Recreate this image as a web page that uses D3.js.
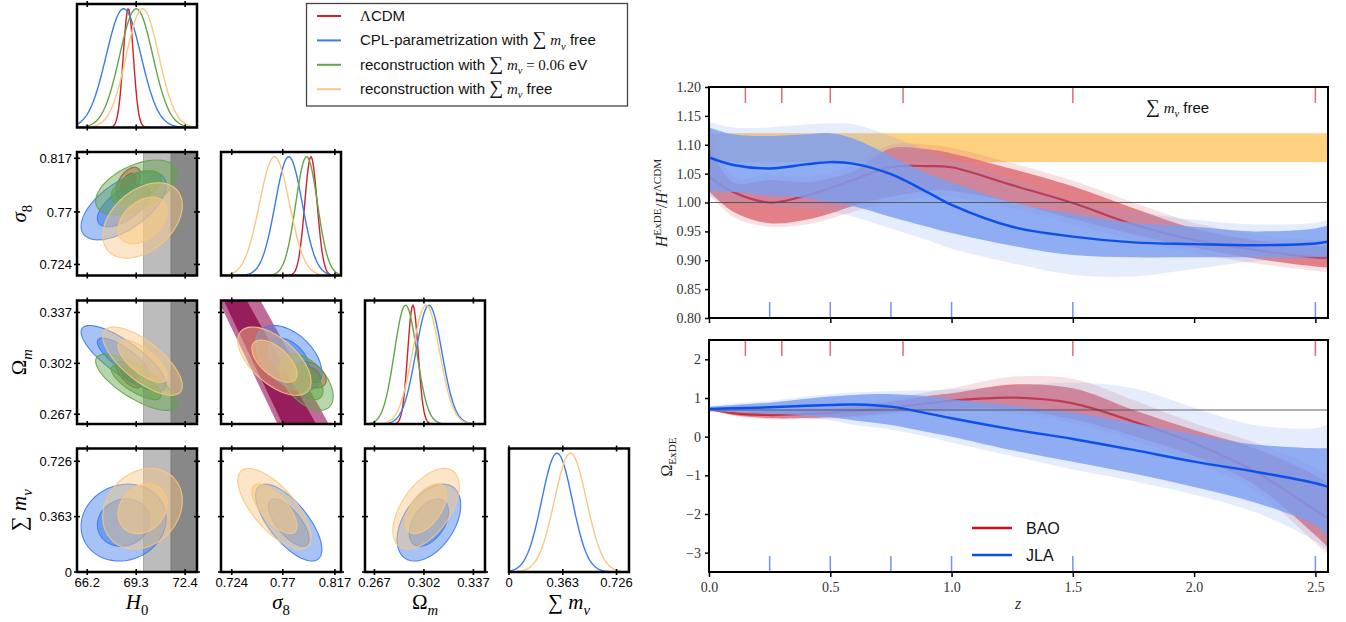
<!DOCTYPE html>
<html>
<head>
<meta charset="utf-8">
<script src="https://cdn.jsdelivr.net/npm/d3@7"></script>
<style>
body { margin: 0; background: #fff; }
svg { display: block; }
</style>
</head>
<body>
<svg id="chart" width="1346" height="622"></svg>
<script>
// ---------------- corner plot data ----------------
var paramDomains = [[65.55, 73.15], [0.7143, 0.8225], [0.2603, 0.3452], [0, 0.81]];
var paramTicks = [[66.2, 69.3, 72.4], [0.724, 0.77, 0.817], [0.267, 0.302, 0.337], [0, 0.363, 0.726]];
var paramTickLabels = [["66.2", "69.3", "72.4"], ["0.724", "0.77", "0.817"], ["0.267", "0.302", "0.337"], ["0", "0.363", "0.726"]];

var seriesNames = ["LCDM", "CPL", "recon006", "reconFree"];
var seriesColors = ["#d21f2b", "#3b7bec", "#62a447", "#f8c882"];
// mean / sigma of H0, sigma8, Omega_m, sum m_nu (null = not sampled)
var seriesMean = [[68.8, 0.7954, 0.2942, null],
                  [68.5, 0.7754, 0.3055, 0.324],
                  [69.3, 0.7915, 0.289, null],
                  [69.7, 0.7625, 0.3035, 0.415]];
var seriesSigma = [[0.32, 0.0056, 0.0037, null],
                   [1.1, 0.0122, 0.0092, 0.103],
                   [1.05, 0.0098, 0.0079, null],
                   [1.03, 0.0135, 0.0096, 0.108]];
// correlation coefficients per parameter pair
var corrH0S8 = [0.5, 0.6, 0.5, 0.4];
var corrH0Om = [-0.7, -0.8, -0.75, -0.72];
var corrS8Om = [-0.4, -0.45, -0.5, -0.6];
var corrH0Mnu = [null, 0.1, null, 0.2];
var corrS8Mnu = [null, -0.7, null, -0.7];
var corrOmMnu = [null, 0.45, null, 0.55];
var contourProbs = [0.95, 0.68];
var contourAlpha = [0.45, 0.55];

// local H0 bands (2 sigma, 1 sigma)
var h0BandOuter = [69.76, 76.72];
var h0BandInner = [71.50, 74.98];
// sigma8 - Omega_m cluster band
var bandOm = [0.255, 0.35];
var bandOuterLo = [0.7686, 0.7089];
var bandOuterHi = [0.8153, 0.7464];
var bandInnerLo = [0.7732, 0.7137];
var bandInnerHi = [0.8039, 0.734];

// ---------------- reconstruction data ----------------
var zGrid = [0, 0.1, 0.25, 0.4, 0.5, 0.6, 0.75, 0.9, 1.0, 1.25, 1.5, 1.75, 2.0, 2.25, 2.5, 2.55];

var blueHMean = [1.078, 1.065, 1.059, 1.066, 1.070, 1.067, 1.049, 1.018, 0.996, 0.958, 0.941, 0.931, 0.928, 0.926, 0.929, 0.932];
var blueHLo = [1.02, 1.018, 1.012, 1.008, 1.0, 0.993, 0.975, 0.958, 0.947, 0.925, 0.909, 0.905, 0.905, 0.905, 0.905, 0.905];
var blueHHi = [1.13, 1.118, 1.115, 1.118, 1.12, 1.11, 1.08, 1.05, 1.035, 1.0, 0.98, 0.965, 0.958, 0.95, 0.955, 0.96];
var blueHFringeLo = [1.01, 1.0, 0.995, 0.99, 0.985, 0.975, 0.955, 0.935, 0.92, 0.895, 0.875, 0.872, 0.885, 0.898, 0.9, 0.9];
var blueHFringeHi = [1.14, 1.13, 1.13, 1.135, 1.137, 1.135, 1.115, 1.09, 1.075, 1.04, 1.005, 0.985, 0.97, 0.962, 0.965, 0.97];

var redHMean = [1.045, 1.018, 1.0, 1.012, 1.025, 1.04, 1.061, 1.063, 1.061, 1.030, 0.999, 0.962, 0.935, 0.918, 0.905, 0.905];
var redHLo = [1.02, 0.984, 0.964, 0.97, 0.981, 0.995, 1.01, 1.02, 1.02, 1.0, 0.972, 0.945, 0.922, 0.903, 0.889, 0.887];
var redHHi = [1.10, 1.035, 1.039, 1.035, 1.042, 1.055, 1.094, 1.092, 1.085, 1.058, 1.028, 0.99, 0.955, 0.935, 0.925, 0.925];
var redHFringeLo = [1.015, 0.975, 0.958, 0.962, 0.972, 0.985, 1.0, 1.01, 1.01, 0.99, 0.962, 0.935, 0.912, 0.895, 0.882, 0.88];
var redHFringeHi = [1.145, 1.045, 1.048, 1.045, 1.052, 1.065, 1.1, 1.1, 1.095, 1.068, 1.038, 1.0, 0.965, 0.945, 0.935, 0.935];

var blueOMean = [0.716, 0.735, 0.759, 0.80, 0.82, 0.833, 0.776, 0.604, 0.475, 0.19, -0.059, -0.343, -0.645, -0.903, -1.205, -1.291];
var blueOLo = [0.66, 0.64, 0.60, 0.55, 0.50, 0.42, 0.30, 0.12, 0.0, -0.35, -0.65, -0.95, -1.3, -1.7, -2.3, -2.6];
var blueOHi = [0.77, 0.82, 0.88, 0.98, 1.04, 1.08, 1.1, 1.05, 0.97, 0.8, 0.62, 0.35, 0.05, -0.2, -0.3, -0.3];
var blueOFringeLo = [0.64, 0.6, 0.55, 0.48, 0.42, 0.3, 0.18, 0.0, -0.15, -0.5, -0.85, -1.15, -1.5, -1.95, -2.7, -2.95];
var blueOFringeHi = [0.8, 0.86, 0.93, 1.04, 1.1, 1.14, 1.18, 1.2, 1.22, 1.3, 1.4, 1.25, 0.75, 0.3, 0.22, 0.3];

var redOMean = [0.716, 0.61, 0.56, 0.587, 0.62, 0.66, 0.75, 0.86, 0.93, 1.01, 0.862, 0.389, -0.17, -0.9, -1.9, -2.1];
var redOLo = [0.70, 0.56, 0.48, 0.48, 0.50, 0.53, 0.62, 0.68, 0.72, 0.70, 0.45, 0.02, -0.5, -1.25, -2.55, -2.85];
var redOHi = [0.74, 0.66, 0.67, 0.70, 0.72, 0.78, 0.9, 1.05, 1.12, 1.35, 1.25, 0.69, 0.17, -0.30, -1.0, -1.2];
var redOFringeLo = [0.69, 0.54, 0.45, 0.45, 0.47, 0.5, 0.58, 0.62, 0.65, 0.6, 0.35, -0.1, -0.65, -1.4, -2.75, -3.05];
var redOFringeHi = [0.75, 0.68, 0.7, 0.74, 0.78, 0.85, 0.98, 1.15, 1.25, 1.55, 1.5, 0.95, 0.35, -0.15, -0.8, -1.0];

var baoRedshifts = [0.15, 0.3, 0.5, 0.8, 1.5, 2.5];
var jlaRedshifts = [0.25, 0.5, 0.75, 1.0, 1.5, 2.5];
var hubbleBand = [1.07, 1.12];
var hRef = 1.0;
var omegaRef = 0.69;

// ---------------- helpers ----------------
var SANS = "'Liberation Sans', Arial, Helvetica, sans-serif";
var SERIF = "'Liberation Serif', 'DejaVu Serif', serif";
var svg = d3.select("#chart");

// parts: [text, kind]
function richText(sel, parts, size, bigScale) {
	var shift = 0;
	parts.forEach(function(p) {
		var kind = p[1];
		var target = 0;
		if (kind.indexOf("sub") === 0) target = size * 0.28;
		if (kind.indexOf("sup") === 0) target = -size * 0.4;
		var ts = sel.append("tspan").text(p[0]).attr("dy", target - shift);
		shift = target;
		if (kind !== "sans") ts.attr("font-family", SERIF);
		if (kind === "it" || kind === "subit") ts.attr("font-style", "italic");
		if (kind === "sub" || kind === "subit" || kind === "sup") ts.attr("font-size", size * 0.7);
		if (kind === "big") ts.attr("font-size", size * (bigScale || 1.3));
	});
}

function corrFor(i, j, s) {
	var key = Math.min(i, j) + "-" + Math.max(i, j);
	var table = {"0-1": corrH0S8, "0-2": corrH0Om, "1-2": corrS8Om,
				 "0-3": corrH0Mnu, "1-3": corrS8Mnu, "2-3": corrOmMnu};
	return table[key][s];
}

// ---------------- corner plot ----------------
var colX = [77, 221, 365, 509];
var rowY = [4, 152, 300.5, 448.5];
var cellW = 120, cellH = 123.5;

var xScales = paramDomains.map(function(d, i) {
	return d3.scaleLinear().domain(d).range([colX[i], colX[i] + cellW]);
});
var yScales = paramDomains.map(function(d, i) {
	return d3.scaleLinear().domain(d).range([rowY[i] + cellH, rowY[i]]);
});

var tri = svg.append("g").attr("class", "tri");

function ellipse(mx, my, sx, sy, rho, r) {
	var pts = [];
	var n = 90;
	for (var k = 0; k < n; k++) {
		var t = 2 * Math.PI * k / n;
		var u = r * Math.cos(t), v = r * Math.sin(t);
		pts.push([mx + sx * u, my + sy * (rho * u + Math.sqrt(1 - rho * rho) * v)]);
	}
	return pts;
}

for (var r = 0; r < 4; r++) {
	for (var c = 0; c <= r; c++) {
		var xs = xScales[c];
		var px = colX[c], py = rowY[r];
		var clipId = "clip-" + r + "-" + c;
		tri.append("clipPath").attr("id", clipId).append("rect")
			.attr("x", px).attr("y", py).attr("width", cellW).attr("height", cellH);
		var cell = tri.append("g").attr("clip-path", "url(#" + clipId + ")");

		if (r === c) {
			// 1D marginal
			var yd = d3.scaleLinear().domain([0, 1.04]).range([py + cellH, py]);
			for (var s = 0; s < seriesNames.length; s++) {
				var m = seriesMean[s][c], sd = seriesSigma[s][c];
				if (m === null) continue;
				var samples = d3.range(0, 121).map(function(k) {
					var d = paramDomains[c];
					return d[0] + (d[1] - d[0]) * k / 120;
				});
				var line = d3.line()
					.x(function(v) { return xs(v); })
					.y((function(m, sd) {
						return function(v) { return yd(Math.exp(-0.5 * Math.pow((v - m) / sd, 2))); };
					})(m, sd));
				cell.append("path").datum(samples)
					.attr("d", line)
					.attr("fill", "none")
					.attr("stroke", seriesColors[s])
					.attr("stroke-width", 1.4);
			}
		}
		else {
			var ys = yScales[r];
			// H0 local measurement bands
			if (c === 0) {
				cell.append("rect")
					.attr("x", xs(h0BandOuter[0])).attr("y", py)
					.attr("width", xs(h0BandOuter[1]) - xs(h0BandOuter[0])).attr("height", cellH)
					.attr("fill", "#bcbcbc").attr("stroke", "#a0a0a0").attr("stroke-width", 0.8);
				cell.append("rect")
					.attr("x", xs(h0BandInner[0])).attr("y", py)
					.attr("width", xs(h0BandInner[1]) - xs(h0BandInner[0])).attr("height", cellH)
					.attr("fill", "#888888").attr("stroke", "#777").attr("stroke-width", 0.8);
			}
			// sigma8 - Omega_m band
			if (c === 1 && r === 2) {
				var bandPoly = function(lo, hi) {
					return [[lo[0], bandOm[0]], [lo[1], bandOm[1]], [hi[1], bandOm[1]], [hi[0], bandOm[0]]];
				};
				var polyLine = d3.line()
					.x(function(p) { return xs(p[0]); })
					.y(function(p) { return ys(p[1]); })
					.curve(d3.curveLinearClosed);
				cell.append("path").attr("d", polyLine(bandPoly(bandOuterLo, bandOuterHi)))
					.attr("fill", "#bf6c98");
				cell.append("path").attr("d", polyLine(bandPoly(bandInnerLo, bandInnerHi)))
					.attr("fill", "#981d5d");
			}
			for (var s = 0; s < seriesNames.length; s++) {
				var mx = seriesMean[s][c], my = seriesMean[s][r];
				if (mx === null || my === null) continue;
				var sx = seriesSigma[s][c], sy = seriesSigma[s][r];
				var rho = corrFor(c, r, s);
				contourProbs.forEach(function(p, li) {
					var rad = Math.sqrt(-2 * Math.log(1 - p));
					var pts = ellipse(mx, my, sx, sy, rho, rad);
					var path = d3.line()
						.x(function(q) { return xs(q[0]); })
						.y(function(q) { return ys(q[1]); })
						.curve(d3.curveLinearClosed);
					cell.append("path").attr("d", path(pts))
						.attr("fill", seriesColors[s])
						.attr("fill-opacity", contourAlpha[li])
						.attr("stroke", seriesColors[s])
						.attr("stroke-opacity", 0.9)
						.attr("stroke-width", 1.1);
				});
			}
		}

		// frame
		tri.append("rect")
			.attr("x", px).attr("y", py).attr("width", cellW).attr("height", cellH)
			.attr("fill", "none").attr("stroke", "#000").attr("stroke-width", 2.5);

		// ticks
		paramTicks[c].forEach(function(t) {
			[py, py + cellH].forEach(function(yy) {
				tri.append("line")
					.attr("x1", xs(t)).attr("x2", xs(t))
					.attr("y1", yy - 3).attr("y2", yy + 3)
					.attr("stroke", "#000").attr("stroke-width", 1.6);
			});
		});
		if (r !== c) {
			var ysT = yScales[r];
			paramTicks[r].forEach(function(t) {
				[px, px + cellW].forEach(function(xx) {
					tri.append("line")
						.attr("y1", ysT(t)).attr("y2", ysT(t))
						.attr("x1", xx - 3).attr("x2", xx + 3)
						.attr("stroke", "#000").attr("stroke-width", 1.6);
				});
			});
		}

		// tick labels
		if (r === 3) {
			paramTicks[c].forEach(function(t, k) {
				tri.append("text")
					.attr("x", xs(t)).attr("y", 587)
					.attr("text-anchor", "middle")
					.attr("font-family", SANS).attr("font-size", 13)
					.text(paramTickLabels[c][k]);
			});
		}
		if (c === 0 && r > 0) {
			var ysL = yScales[r];
			paramTicks[r].forEach(function(t, k) {
				tri.append("text")
					.attr("x", 72).attr("y", ysL(t)).attr("dy", "0.36em")
					.attr("text-anchor", "end")
					.attr("font-family", SANS).attr("font-size", 13)
					.text(paramTickLabels[r][k]);
			});
		}
	}
}

// axis labels of the corner plot
var paramLabelParts = [
	[["H", "it"], ["0", "sub"]],
	[["σ", "it"], ["8", "sub"]],
	[["Ω", "rm"], ["m", "subit"]],
	[["∑", "big"], [" ", "rm"], ["m", "it"], ["ν", "subit"]]
];
paramLabelParts.forEach(function(parts, i) {
	var t = tri.append("text")
		.attr("x", colX[i] + cellW / 2).attr("y", 609)
		.attr("text-anchor", "middle")
		.attr("font-family", SERIF).attr("font-size", 21);
	richText(t, parts, 21, 1.0);
	if (i > 0) {
		var ty = tri.append("text")
			.attr("transform", "translate(" + 26 + "," + (rowY[i] + cellH / 2) + ") rotate(-90)")
			.attr("text-anchor", "middle")
			.attr("font-family", SERIF).attr("font-size", 21);
		richText(ty, parts, 21, 1.0);
	}
});

// legend
var legendEntries = [
	[["Λ", "rm"], ["CDM", "sans"]],
	[["CPL-parametrization with ", "sans"], ["∑", "big"], [" ", "rm"], ["m", "it"], ["ν", "subit"], [" free", "sans"]],
	[["reconstruction with ", "sans"], ["∑", "big"], [" ", "rm"], ["m", "it"], ["ν", "subit"], [" = 0.06", "rm"], [" eV", "sans"]],
	[["reconstruction with ", "sans"], ["∑", "big"], [" ", "rm"], ["m", "it"], ["ν", "subit"], [" free", "sans"]]
];
var legend = svg.append("g");
legend.append("rect")
	.attr("x", 306.5).attr("y", 3.5).attr("width", 321).attr("height", 102.5)
	.attr("fill", "#fff").attr("stroke", "#444").attr("stroke-width", 1.3);
legendEntries.forEach(function(parts, i) {
	var yy = 16 + i * 24.4;
	legend.append("line")
		.attr("x1", 317).attr("x2", 341).attr("y1", yy).attr("y2", yy)
		.attr("stroke", seriesColors[i]).attr("stroke-width", 2);
	var t = legend.append("text")
		.attr("x", 360).attr("y", yy + 5)
		.attr("font-family", SANS).attr("font-size", 15).attr("fill", "#111");
	richText(t, parts, 15);
});

// ---------------- reconstruction panels ----------------
var zScale = d3.scaleLinear().domain([0, 2.552]).range([709, 1328]);
var yTop = d3.scaleLinear().domain([0.8, 1.2]).range([318, 87]);
var yBot = d3.scaleLinear().domain([-3.5, 2.5]).range([572, 340]);

var panels = [
	{ y: yTop, top: 87, bottom: 318, id: "top",
	  blue: [blueHFringeLo, blueHFringeHi, blueHLo, blueHHi, blueHMean],
	  red: [redHFringeLo, redHFringeHi, redHLo, redHHi, redHMean], ref: hRef },
	{ y: yBot, top: 340, bottom: 572, id: "bot",
	  blue: [blueOFringeLo, blueOFringeHi, blueOLo, blueOHi, blueOMean],
	  red: [redOFringeLo, redOFringeHi, redOLo, redOHi, redOMean], ref: omegaRef }
];

var bandRed = "#e0767d", bandBlue = "#7d9ef0";
var meanRed = "#cc1020", meanBlue = "#0b50e8";

panels.forEach(function(P) {
	var g = svg.append("g");
	g.append("clipPath").attr("id", "clip-" + P.id).append("rect")
		.attr("x", 709).attr("y", P.top).attr("width", 1328 - 709).attr("height", P.bottom - P.top);
	var inner = g.append("g").attr("clip-path", "url(#clip-" + P.id + ")");

	if (P.id === "top") {
		inner.append("rect")
			.attr("x", zScale(0)).attr("width", zScale(2.552) - zScale(0))
			.attr("y", yTop(hubbleBand[1])).attr("height", yTop(hubbleBand[0]) - yTop(hubbleBand[1]))
			.attr("fill", "#fed181");
	}

	var area = function(lo, hi) {
		return d3.area()
			.x(function(d, i) { return zScale(zGrid[i]); })
			.y0(function(d, i) { return P.y(lo[i]); })
			.y1(function(d, i) { return P.y(hi[i]); })
			.curve(d3.curveCatmullRom.alpha(0.5))(zGrid);
	};
	var line = function(vals) {
		return d3.line()
			.x(function(d, i) { return zScale(zGrid[i]); })
			.y(function(d, i) { return P.y(vals[i]); })
			.curve(d3.curveCatmullRom.alpha(0.5))(zGrid);
	};

	// red samples, red mean, then the blue samples over them
	inner.append("path").attr("d", area(P.red[0], P.red[1])).attr("fill", bandRed).attr("opacity", 0.22);
	inner.append("path").attr("d", area(P.red[2], P.red[3])).attr("fill", bandRed).attr("opacity", 0.9);
	inner.append("path").attr("d", line(P.red[4])).attr("fill", "none")
		.attr("stroke", meanRed).attr("stroke-width", 2.2).attr("opacity", 0.85);
	inner.append("path").attr("d", area(P.blue[0], P.blue[1])).attr("fill", bandBlue).attr("opacity", 0.2);
	inner.append("path").attr("d", area(P.blue[2], P.blue[3])).attr("fill", bandBlue).attr("opacity", 0.82);

	inner.append("line")
		.attr("x1", 709).attr("x2", 1328).attr("y1", P.y(P.ref)).attr("y2", P.y(P.ref))
		.attr("stroke", "#4a4a4a").attr("stroke-width", 1).attr("opacity", 0.85);

	inner.append("path").attr("d", line(P.blue[4])).attr("fill", "none")
		.attr("stroke", meanBlue).attr("stroke-width", 2.4);

	baoRedshifts.forEach(function(z) {
		g.append("line").attr("x1", zScale(z)).attr("x2", zScale(z))
			.attr("y1", P.top).attr("y2", P.top + 16)
			.attr("stroke", "#e26b76").attr("stroke-width", 1.5);
	});
	jlaRedshifts.forEach(function(z) {
		g.append("line").attr("x1", zScale(z)).attr("x2", zScale(z))
			.attr("y1", P.bottom).attr("y2", P.bottom - 16)
			.attr("stroke", "#7092f0").attr("stroke-width", 1.5);
	});

	g.append("rect")
		.attr("x", 709).attr("y", P.top).attr("width", 1328 - 709).attr("height", P.bottom - P.top)
		.attr("fill", "none").attr("stroke", "#000").attr("stroke-width", 2);

	var yAxis = d3.axisLeft(P.y).tickSizeOuter(0).tickSize(4).tickPadding(4);
	if (P.id === "top") {
		yAxis.tickValues([0.80, 0.85, 0.90, 0.95, 1.00, 1.05, 1.10, 1.15, 1.20]).tickFormat(d3.format(".2f"));
	}
	else {
		yAxis.tickValues([-3, -2, -1, 0, 1, 2]).tickFormat(d3.format("d"));
	}
	var ya = g.append("g").attr("transform", "translate(709,0)").call(yAxis);
	var xAxis = d3.axisBottom(zScale).tickValues([0, 0.5, 1.0, 1.5, 2.0, 2.5])
		.tickSizeOuter(0).tickSize(5).tickPadding(5).tickFormat(d3.format(".1f"));
	if (P.id === "top") xAxis.tickFormat("");
	var xa = g.append("g").attr("transform", "translate(0," + P.bottom + ")").call(xAxis);
	[ya, xa].forEach(function(a) {
		a.select(".domain").remove();
		a.selectAll(".tick line").attr("stroke", "#000").attr("stroke-width", 1.5);
		a.selectAll(".tick text").attr("font-family", SERIF).attr("font-size", 14).attr("fill", "#333");
	});
});

// right panel labels
var yl1 = svg.append("text")
	.attr("transform", "translate(667,203) rotate(-90)")
	.attr("text-anchor", "middle").attr("font-family", SERIF).attr("font-size", 16).attr("fill", "#222");
richText(yl1, [["H", "it"], ["ExDE", "sup"], ["/", "rm"], ["H", "it"], ["ΛCDM", "sup"]], 16);

var yl2 = svg.append("text")
	.attr("transform", "translate(672,457) rotate(-90)")
	.attr("text-anchor", "middle").attr("font-family", SERIF).attr("font-size", 16).attr("fill", "#222");
richText(yl2, [["Ω", "rm"], ["ExDE", "sub"]], 16);

svg.append("text").attr("x", 1018).attr("y", 609)
	.attr("text-anchor", "middle").attr("font-family", SERIF).attr("font-style", "italic")
	.attr("font-size", 16).attr("fill", "#333").text("z");

var freeLabel = svg.append("text").attr("x", 1146).attr("y", 113)
	.attr("font-family", SANS).attr("font-size", 15).attr("fill", "#111");
richText(freeLabel, [["∑", "big"], [" ", "rm"], ["m", "it"], ["ν", "subit"], [" free", "sans"]], 15);

// bottom legend
var recLegend = [["BAO", meanRed], ["JLA", meanBlue]];
recLegend.forEach(function(e, i) {
	var yy = 528 + i * 27;
	svg.append("line").attr("x1", 972).attr("x2", 1012).attr("y1", yy).attr("y2", yy)
		.attr("stroke", e[1]).attr("stroke-width", 2.5);
	svg.append("text").attr("x", 1026).attr("y", yy + 6)
		.attr("font-family", SANS).attr("font-size", 16).attr("fill", "#111").text(e[0]);
});
</script>
</body>
</html>
